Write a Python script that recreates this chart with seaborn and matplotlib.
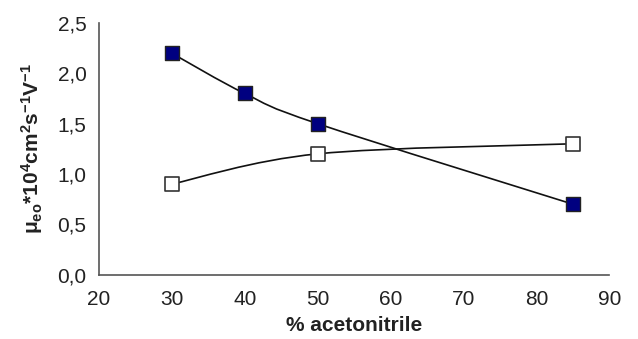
import numpy as np
import pandas as pd
import matplotlib
matplotlib.use("Agg")
import matplotlib.pyplot as plt
from matplotlib.path import Path
from matplotlib.patches import PathPatch
import seaborn as sns

# Data
acn_filled = [30, 40, 50, 85]
mob_filled = [2.2, 1.8, 1.5, 0.7]
acn_open = [30, 50, 85]
mob_open = [0.9, 1.2, 1.3]

x_ticks = [20, 30, 40, 50, 60, 70, 80, 90]
y_ticks = [0.0, 0.5, 1.0, 1.5, 2.0, 2.5]

sns.set_style("white")
plt.rcParams['font.family'] = ['Liberation Sans', 'DejaVu Sans']
plt.rcParams['mathtext.fontset'] = 'custom'
plt.rcParams['mathtext.rm'] = 'Liberation Sans'
plt.rcParams['mathtext.bf'] = 'Liberation Sans:bold'
plt.rcParams['mathtext.it'] = 'Liberation Sans:italic'


def smooth_path(xs, ys):
    # Excel-like smoothed line: cubic Bezier through the points
    pts = np.column_stack([xs, ys]).astype(float)
    n = len(pts)
    verts = [pts[0]]
    codes = [Path.MOVETO]
    for i in range(n - 1):
        p0 = pts[i - 1] if i > 0 else pts[i]
        p1 = pts[i]
        p2 = pts[i + 1]
        p3 = pts[i + 2] if i + 2 < n else pts[i + 1]
        c1 = p1 + (p2 - p0) / 6.0
        c2 = p2 - (p3 - p1) / 6.0
        verts += [c1, c2, p2]
        codes += [Path.CURVE4] * 3
    return Path(verts, codes)


fig, ax = plt.subplots(figsize=(6.38, 3.39), dpi=100)
fig.subplots_adjust(left=0.155, right=0.955, bottom=0.19, top=0.932)

for xs, ys in [(acn_filled, mob_filled), (acn_open, mob_open)]:
    ax.add_patch(PathPatch(smooth_path(xs, ys), facecolor='none',
                           edgecolor='#111111', lw=1.2, zorder=2))

df_f = pd.DataFrame({'acn': acn_filled, 'mob': mob_filled})
df_o = pd.DataFrame({'acn': acn_open, 'mob': mob_open})
sns.scatterplot(data=df_f, x='acn', y='mob', ax=ax, marker='s', s=95,
                color='#000080', edgecolor='#222222', linewidth=1.0, zorder=3)
sns.scatterplot(data=df_o, x='acn', y='mob', ax=ax, marker='s', s=95,
                color='white', edgecolor='#333333', linewidth=1.2, zorder=3)

ax.set_xlim(20, 90)
ax.set_ylim(0, 2.5)
ax.set_xticks(x_ticks)
ax.set_yticks(y_ticks)
ax.set_yticklabels([f"{v:.1f}".replace('.', ',') for v in y_ticks])
ax.tick_params(axis='both', labelsize=15, length=4, width=1,
               color='#555555', labelcolor='#222222', direction='out')
ax.tick_params(axis='x', pad=7)
ax.tick_params(axis='y', pad=5)

for side in ['top', 'right']:
    ax.spines[side].set_visible(False)
for side in ['left', 'bottom']:
    ax.spines[side].set_color('#555555')
    ax.spines[side].set_linewidth(1.2)

ax.set_xlabel('% acetonitrile', fontsize=15, fontweight='bold', color='#222222', labelpad=5)
ax.set_ylabel(r'$\mathbf{\mu_{eo}{*}10^{4}cm^{2}s^{-1}V^{-1}}$', fontsize=15,
              color='#222222', labelpad=9)

plt.savefig("out.png", dpi=100)
